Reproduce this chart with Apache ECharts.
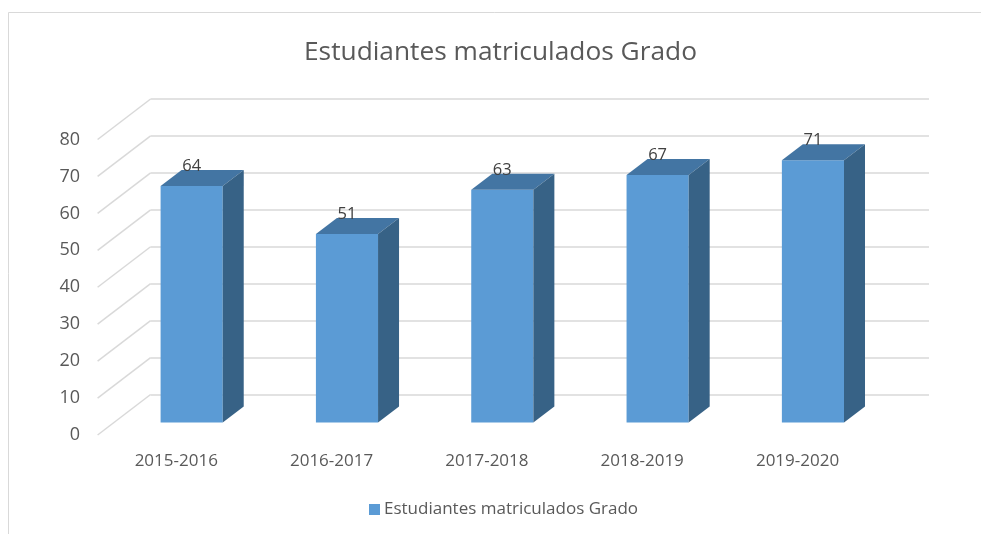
<!DOCTYPE html>
<html><head><meta charset="utf-8">
<style>html,body{margin:0;padding:0;background:#fff}#c{width:981px;height:534px}</style>
<script src="https://cdn.jsdelivr.net/npm/echarts@6/dist/echarts.min.js"></script>
</head><body><div id="c"></div>
<script>
var titleText = 'Estudiantes matriculados Grado';
var seriesName = 'Estudiantes matriculados Grado';
var categories = ['2015-2016','2016-2017','2017-2018','2018-2019','2019-2020'];
var values = [64,51,63,67,71];
var yTicks = [0,10,20,30,40,50,60,70,80];

var font = '"Open Sans"';
var FRONT='#5B9BD5', TOP='#4375A3', SIDE='#376286', GRID='#D9D9D9';
// wall depth of the pseudo-3D box, and bar placement in it (pixels)
var WALL=[53,-40.5], INSET=[16.4,-12.5], BAR=[21,-16];

var chart = echarts.init(document.getElementById('c'),null,{renderer:'canvas'});
chart.setOption({
  animation:false,
  backgroundColor:'#fff',
  title:{text:titleText,top:40,padding:0,left:304,
    textStyle:{fontFamily:font,fontSize:26.3,fontWeight:'normal',color:'#595959'}},
  legend:{data:[seriesName],left:369,top:501,padding:0,itemWidth:11,itemHeight:11,itemGap:5,icon:'rect',
    textStyle:{fontFamily:font,fontSize:17,color:'#595959',padding:[0,0,0,-1]}},
  grid:[
    {left:97.6,top:139.5,width:776.6,height:295.5},
    {left:150.6,top:99,width:778.4,height:295.5}
  ],
  xAxis:[
    {type:'category',gridIndex:0,data:categories,axisLine:{show:false},axisTick:{show:false},
      axisLabel:{margin:18,padding:[0,0,0,2],fontFamily:font,fontSize:17,color:'#595959'}},
    {type:'category',gridIndex:1,data:categories,show:false}
  ],
  yAxis:[
    {type:'value',gridIndex:0,min:0,max:80,interval:10,axisLine:{show:false},axisTick:{show:false},
      splitLine:{show:false},axisLabel:{margin:17.5,padding:[2,0,0,0],fontFamily:font,fontSize:18,color:'#595959'}},
    {type:'value',gridIndex:1,min:0,max:80,interval:10,axisLine:{show:false},axisTick:{show:false},
      axisLabel:{show:false},splitLine:{show:true,lineStyle:{color:GRID,width:1.5}}}
  ],
  series:[
    {type:'custom',name:'floor',xAxisIndex:0,yAxisIndex:0,silent:true,z:2,
      data:yTicks,
      renderItem:function(params,api){
        var p=api.coord([0,api.value(0)]);
        var x=params.coordSys.x;
        return {type:'line',shape:{x1:x,y1:p[1],x2:x+WALL[0],y2:p[1]+WALL[1]},
          style:{stroke:GRID,lineWidth:1.5}};
      },
      encode:{y:0}},
    {type:'custom',name:seriesName,xAxisIndex:0,yAxisIndex:0,z:3,
      itemStyle:{color:FRONT},
      data:values.map(function(v,i){return [i,v];}),
      encode:{x:0,y:1},
      renderItem:function(params,api){
        var c=api.coord([api.value(0),api.value(1)]);
        var b=api.coord([api.value(0),0]);
        var w=api.size([1,0])[0]*0.4;
        var l=c[0]-w/2+INSET[0], r=l+w, t=c[1]+INSET[1], y0=b[1]+INSET[1];
        var dx=BAR[0], dy=BAR[1];
        function poly(pts,fill){return {type:'polygon',shape:{points:pts},style:{fill:fill}};}
        return {type:'group',children:[
          poly([[l,t],[r,t],[r,y0],[l,y0]],FRONT),
          poly([[l,t],[r,t],[r+dx,t+dy],[l+dx,t+dy]],TOP),
          poly([[r,t],[r+dx,t+dy],[r+dx,y0+dy],[r,y0]],SIDE),
          {type:'text',z2:10,style:{text:String(api.value(1)),x:(l+r)/2,y:t-19.5,align:'center',verticalAlign:'middle',
            fontFamily:font,fontSize:16.5,fill:'#404040'}}
        ]};
      }}
  ],
  graphic:[
    {type:'polyline',silent:true,z:0,shape:{points:[[8.5,534],[8.5,12.5],[981,12.5]]},
      style:{stroke:'#D9D9D9',lineWidth:1,fill:null}}
  ]
});
</script></body></html>
